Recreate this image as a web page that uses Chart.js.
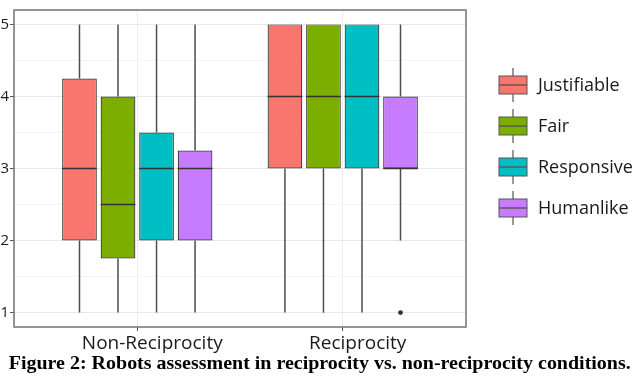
<!DOCTYPE html>
<html>
<head>
<meta charset="utf-8">
<script src="https://cdn.jsdelivr.net/npm/chart.js@4.4.1/dist/chart.umd.min.js"></script>
<style>
  html, body { margin: 0; padding: 0; background: #fff; }
  #wrap { position: relative; width: 640px; height: 379px; overflow: hidden; }
  #box { position: absolute; left: 0; top: 0; width: 640px; height: 358px; }
  #caption {
    position: absolute; left: -300px; top: 352px; width: 1240px; text-align: center;
    font-family: "Liberation Serif", "Times New Roman", serif; font-weight: bold;
    font-size: 19px; color: #000; white-space: nowrap;
  }
  #caption span { display: inline-block; transform-origin: center; }
</style>
</head>
<body>
<div id="wrap">
  <div id="box"><canvas id="grafiek"></canvas></div>
  <div id="caption"><span id="capText">Figure 2: Robots assessment in reciprocity vs. non-reciprocity conditions.</span></div>
</div>
<script>
"use strict";
// categories on the x axis
const condities = ['Non-Reciprocity', 'Reciprocity'];
const reeksen = ['Justifiable', 'Fair', 'Responsive', 'Humanlike'];
const kleur = ['#F8766D', '#7CAE00', '#00BFC4', '#C77CFF'];
const yTicks = [1, 2, 3, 4, 5];

// five-number summaries per series: [Non-Reciprocity, Reciprocity]
const minWaarden = [[1, 1], [1, 1], [1, 1], [1, 2]];
const q1Waarden  = [[2, 3], [1.75, 3], [2, 3], [2, 3]];
const mediaan    = [[3, 4], [2.5, 4], [3, 4], [3, 3]];
const q3Waarden  = [[4.25, 5], [4, 5], [3.5, 5], [3.25, 4]];
const maxWaarden = [[5, 5], [5, 5], [5, 5], [5, 5]];
// outliers: [seriesIndex, conditionIndex, value]
const uitschieters = [[3, 1, 1]];

const ctx = document.getElementById('grafiek');

// whiskers first, boxes drawn by chart.js, then medians + outliers
const boxplotPlugin = {
    id: 'boxplot',
    beforeDatasetsDraw(chart) {
        const c = chart.ctx;
        const y = chart.scales.y;
        c.save();
        c.strokeStyle = '#4d4d4d';
        c.lineWidth = 1.5;
        reeksen.forEach((_, i) => {
            chart.getDatasetMeta(i).data.forEach((bar, j) => {
                c.beginPath();
                c.moveTo(bar.x, y.getPixelForValue(minWaarden[i][j]));
                c.lineTo(bar.x, y.getPixelForValue(q1Waarden[i][j]));
                c.moveTo(bar.x, y.getPixelForValue(q3Waarden[i][j]));
                c.lineTo(bar.x, y.getPixelForValue(maxWaarden[i][j]));
                c.stroke();
            });
        });
        c.restore();
    },
    afterDatasetsDraw(chart) {
        const c = chart.ctx;
        const y = chart.scales.y;
        c.save();
        c.strokeStyle = '#333';
        c.lineWidth = 1.6;
        reeksen.forEach((_, i) => {
            chart.getDatasetMeta(i).data.forEach((bar, j) => {
                const py = y.getPixelForValue(mediaan[i][j]);
                c.beginPath();
                c.moveTo(bar.x - bar.width / 2, py);
                c.lineTo(bar.x + bar.width / 2, py);
                c.stroke();
            });
        });
        c.fillStyle = '#333';
        uitschieters.forEach(([i, j, v]) => {
            const bar = chart.getDatasetMeta(i).data[j];
            c.beginPath();
            c.arc(bar.x, y.getPixelForValue(v), 2.4, 0, Math.PI * 2);
            c.fill();
        });
        // panel border
        const a = chart.chartArea;
        c.strokeStyle = '#737373';
        c.lineWidth = 1.5;
        c.strokeRect(a.left, a.top, a.right - a.left, a.bottom - a.top);
        c.restore();
    },
    afterDraw(chart) {
        // legend with boxplot keys
        const c = chart.ctx;
        const a = chart.chartArea;
        const kx = a.right + 47;
        c.save();
        c.font = '18px "Open Sans"';
        c.textBaseline = 'middle';
        reeksen.forEach((naam, i) => {
            const cy = 85 + i * 41;
            c.strokeStyle = '#555';
            c.lineWidth = 1.2;
            c.beginPath();
            c.moveTo(kx, cy - 17);
            c.lineTo(kx, cy + 17);
            c.stroke();
            c.fillStyle = kleur[i];
            c.fillRect(kx - 14, cy - 9, 28, 18);
            c.strokeStyle = '#555';
            c.lineWidth = 1;
            c.strokeRect(kx - 14, cy - 9, 28, 18);
            c.lineWidth = 1.4;
            c.beginPath();
            c.moveTo(kx - 14, cy);
            c.lineTo(kx + 14, cy);
            c.stroke();
            c.fillStyle = '#1a1a1a';
            c.fillText(naam, kx + 25, cy + 1);
        });
        c.restore();
    }
};

const datasets = reeksen.map((naam, i) => ({
    label: naam,
    data: condities.map((_, j) => ({ x: j + 1, y: [q1Waarden[i][j], q3Waarden[i][j]] })),
    backgroundColor: kleur[i],
    borderColor: '#333',
    borderWidth: 1.2,
    borderSkipped: false,
    categoryPercentage: 0.75,
    barPercentage: 0.9
}));

const chart = new Chart(ctx, {
    type: 'bar',
    data: { datasets: datasets },
    options: {
        responsive: true,
        maintainAspectRatio: false,
        animation: false,
        layout: { padding: { top: 7, right: 174, left: 0, bottom: 0 } },
        plugins: { legend: { display: false }, tooltip: { enabled: false } },
        scales: {
            x: {
                type: 'linear',
                min: 0.4,
                max: 2.6,
                offset: false,
                afterBuildTicks: (axis) => { axis.ticks = condities.map((_, j) => ({ value: j + 1 })); },
                afterFit: (axis) => { axis.height = 31; },
                ticks: {
                    callback: (v) => condities[v - 1],
                    font: { family: 'Open Sans', size: 19 },
                    color: '#1a1a1a',
                    padding: 1,
                    labelOffset: 15,
                    maxRotation: 0
                },
                grid: { color: '#ebebeb', tickColor: '#555', tickLength: 4, offset: false },
                border: { display: false }
            },
            y: {
                min: 0.8,
                max: 5.2,
                afterBuildTicks: (axis) => {
                    const t = [];
                    for (let v = 1; v <= 5; v += 0.5) t.push({ value: v });
                    axis.ticks = t;
                },
                afterFit: (axis) => { axis.width = 14; },
                ticks: {
                    callback: (v) => yTicks.includes(v) ? String(v) : '',
                    font: { family: 'Open Sans', size: 15 },
                    color: '#1a1a1a',
                    padding: 1
                },
                grid: {
                    color: (c) => Number.isInteger(c.tick.value) ? '#e8e8e8' : '#f4f4f4',
                    tickColor: (c) => Number.isInteger(c.tick.value) ? '#555' : 'rgba(0,0,0,0)',
                    tickLength: 4
                },
                border: { display: false }
            }
        }
    },
    plugins: [boxplotPlugin]
});

// squeeze caption to the figure width
const cap = document.getElementById('capText');
const breedte = cap.getBoundingClientRect().width;
cap.style.transform = `scaleX(${622 / breedte})`;
</script>
</body>
</html>
